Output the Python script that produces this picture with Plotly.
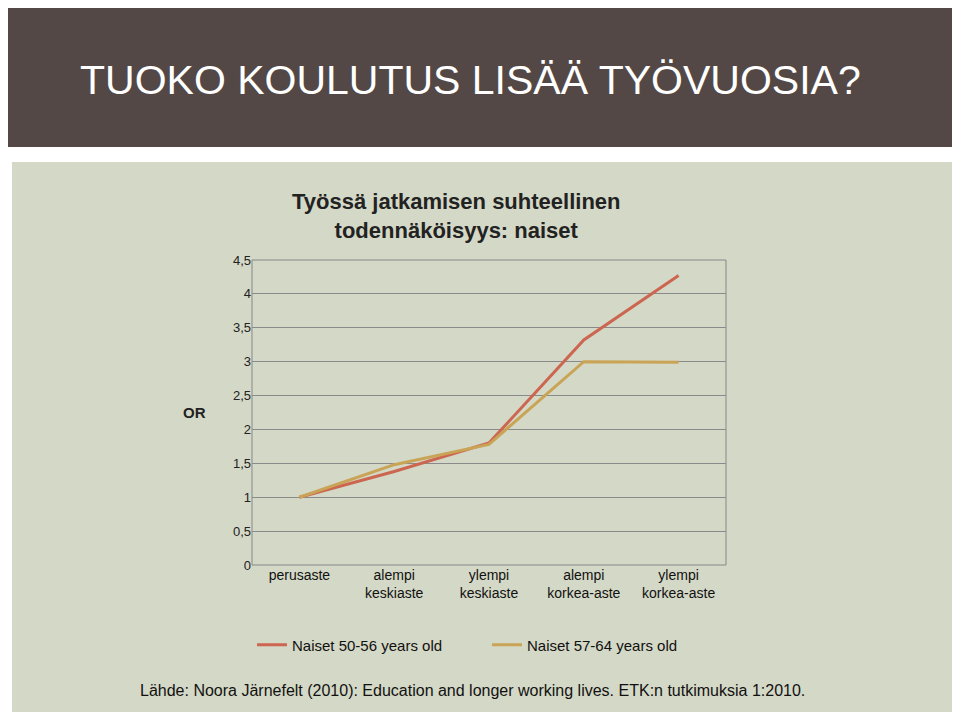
import plotly.graph_objects as go

categories = ["perusaste", "alempi<br>keskiaste", "ylempi<br>keskiaste",
              "alempi<br>korkea-aste", "ylempi<br>korkea-aste"]
naiset_50_56 = [1.0, 1.38, 1.80, 3.32, 4.27]
naiset_57_64 = [1.0, 1.48, 1.78, 3.00, 2.99]
y_ticks = [0, 0.5, 1, 1.5, 2, 2.5, 3, 3.5, 4, 4.5]
y_labels = ["0", "0,5", "1", "1,5", "2", "2,5", "3", "3,5", "4", "4,5"]

L, T, W, H = 244, 252, 474, 305  # plot box in page pixels (page has 8px body margin)
OFF = 8

def px(x):
    return (x - OFF - L) / W

def py(y):
    return (T + H - (y - OFF)) / H

fig = go.Figure()
fig.add_trace(go.Scatter(x=categories, y=naiset_50_56, mode="lines",
                         name="Naiset 50-56 years old",
                         line=dict(color="#cc6650", width=3)))
fig.add_trace(go.Scatter(x=categories, y=naiset_57_64, mode="lines",
                         name="Naiset 57-64 years old",
                         line=dict(color="#c9a457", width=3)))

# background pieces
fig.add_shape(type="rect", xref="paper", yref="paper", layer="below",
              x0=px(0), x1=px(962), y0=py(147), y1=py(-2),
              fillcolor="#534846", line_width=0)
fig.add_shape(type="rect", xref="paper", yref="paper", layer="below",
              x0=px(12), x1=px(955), y0=py(714), y1=py(162),
              fillcolor="#d4d8c6", line_width=0)
fig.add_shape(type="rect", xref="paper", yref="paper", layer="below",
              x0=0, x1=1, y0=0, y1=1, fillcolor="#d4d8c6",
              line=dict(color="#888888", width=1))

fig.add_annotation(text="TUOKO KOULUTUS LISÄÄ TYÖVUOSIA?", xref="paper", yref="paper",
                   x=px(78), y=py(80), xanchor="left", yanchor="middle",
                   showarrow=False, font=dict(family="Liberation Sans", size=41, color="white"))
fig.add_annotation(text="<b>Työssä jatkamisen suhteellinen<br>todennäköisyys: naiset</b>",
                   xref="paper", yref="paper", x=px(456), y=py(216),
                   xanchor="center", yanchor="middle", showarrow=False,
                   font=dict(family="Liberation Sans Narrow, Liberation Sans", size=22, color="#222"))
fig.add_annotation(text="<b>OR</b>", xref="paper", yref="paper", x=px(208), y=py(412),
                   xanchor="right", yanchor="middle", showarrow=False,
                   font=dict(family="Liberation Sans", size=15, color="#222"))
fig.add_annotation(text="Lähde: Noora Järnefelt (2010): Education and longer working lives. ETK:n tutkimuksia 1:2010.",
                   xref="paper", yref="paper", x=px(472), y=py(690),
                   xanchor="center", yanchor="middle", showarrow=False,
                   font=dict(family="Liberation Sans", size=16, color="#111"))

fig.update_layout(
    width=952, height=704,
    margin=dict(l=L, r=952 - L - W, t=T, b=704 - T - H),
    paper_bgcolor="white", plot_bgcolor="#d4d8c6",
    font=dict(family="Liberation Sans", size=14, color="#222"),
    showlegend=True,
    legend=dict(orientation="h", x=0, xanchor="left", y=py(645), yanchor="middle",
                bgcolor="rgba(0,0,0,0)", font=dict(size=15, color="#111"), itemwidth=30,
                entrywidthmode="pixels", entrywidth=190),
    xaxis=dict(showgrid=False, ticks="", range=[-0.5, 4.5], showline=False,
               tickfont=dict(size=14, color="#111")),
    yaxis=dict(range=[0, 4.5], tickvals=y_ticks, ticktext=y_labels,
               gridcolor="#8a8a8a", gridwidth=1, zeroline=False,
               tickfont=dict(size=13), ticklen=0, automargin=False),
)
fig.write_html("out.html")
